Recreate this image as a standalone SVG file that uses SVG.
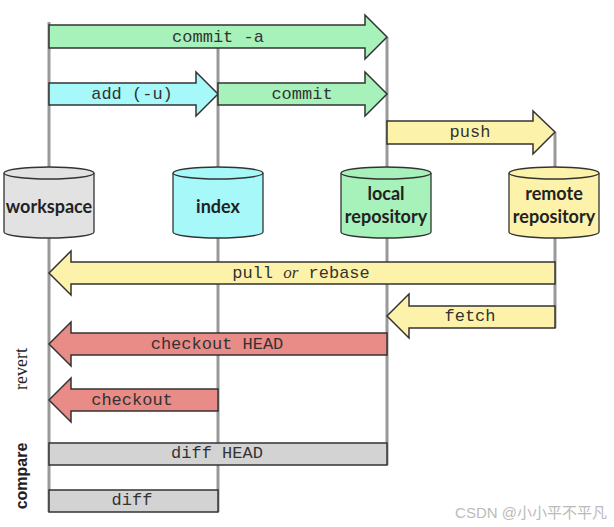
<svg xmlns="http://www.w3.org/2000/svg" width="614" height="527" viewBox="0 0 614 527">
<style>
.vl{stroke:#999;stroke-width:3;fill:none}
.ar{stroke:#333;stroke-width:1.5;stroke-linejoin:miter}
.g{fill:#a7f1ba}.c{fill:#a7f9f9}.y{fill:#fdf2a9}.r{fill:#e98b87}.k{fill:#d3d3d3}
.mono{font-family:"Liberation Mono","Courier New",monospace;font-size:17px;fill:#333;text-anchor:middle}
.cyl{stroke:#333;stroke-width:1.3}
.nl{font-family:"Lato","Open Sans",sans-serif;font-weight:bold;font-size:18px;fill:#222;text-anchor:middle}
</style>
<rect width="614" height="527" fill="#fff"/>
<g id="lifelines">
<line class="vl" x1="49" y1="22" x2="49" y2="512"/>
<line class="vl" x1="218" y1="48" x2="218" y2="512"/>
<line class="vl" x1="387" y1="37" x2="387" y2="465"/>
<line class="vl" x1="555" y1="132" x2="555" y2="328"/>
</g>
<g id="workspace">
<path class="cyl" fill="#e2e2e2" d="M4,173 V232 A45,6 0 0 0 94,232 V173"/>
<ellipse class="cyl" fill="#e2e2e2" cx="49" cy="173" rx="45" ry="6"/>
<text class="nl" x="49" y="213">workspace</text>
</g>
<g id="index">
<path class="cyl" fill="#a7f9f9" d="M173,173 V232 A45,6 0 0 0 263,232 V173"/>
<ellipse class="cyl" fill="#a7f9f9" cx="218" cy="173" rx="45" ry="6"/>
<text class="nl" x="218" y="213">index</text>
</g>
<g id="local">
<path class="cyl" fill="#a7f1ba" d="M341,173 V232 A45,6 0 0 0 431,232 V173"/>
<ellipse class="cyl" fill="#a7f1ba" cx="386" cy="173" rx="45" ry="6"/>
<text class="nl" x="386" y="200">local</text>
<text class="nl" x="386" y="223">repository</text>
</g>
<g id="remote">
<path class="cyl" fill="#fdf2a9" d="M509,173 V232 A45,6 0 0 0 599,232 V173"/>
<ellipse class="cyl" fill="#fdf2a9" cx="554" cy="173" rx="45" ry="6"/>
<text class="nl" x="554" y="200">remote</text>
<text class="nl" x="554" y="223">repository</text>
</g>
<g id="connectors">
<path class="ar g" d="M49,25 H365 V15 L387,37 L365,59 V48 H49 Z"/>
<text class="mono" x="218" y="42">commit -a</text>
<path class="ar c" d="M49,83 H196 V72 L218,94 L196,116 V105 H49 Z"/>
<text class="mono" x="132" y="99">add (-u)</text>
<path class="ar g" d="M218,83 H365 V72 L387,94 L365,116 V105 H218 Z"/>
<text class="mono" x="302" y="99">commit</text>
<path class="ar y" d="M387,121 H533 V111 L555,132 L533,154 V144 H387 Z"/>
<text class="mono" x="470" y="137">push</text>
<path class="ar y" d="M555,262 H71 V251 L49,273 L71,295 V284 H555 Z"/>
<text class="mono" x="301" y="278">pull <tspan font-family="'Liberation Serif',serif" font-style="italic">or</tspan> rebase</text>
<path class="ar y" d="M555,306 H409 V294 L387,316 L409,338 V328 H555 Z"/>
<text class="mono" x="470" y="321">fetch</text>
<path class="ar r" d="M387,333 H71 V322 L49,344 L71,366 V355 H387 Z"/>
<text class="mono" x="217" y="349">checkout HEAD</text>
<path class="ar r" d="M218,389 H71 V378 L49,400 L71,422 V411 H218 Z"/>
<text class="mono" x="132" y="405">checkout</text>
<rect class="ar k" x="49" y="443" width="338" height="22"/>
<text class="mono" x="217" y="458">diff HEAD</text>
<rect class="ar k" x="49" y="490" width="169" height="22"/>
<text class="mono" x="132" y="505">diff</text>
</g>
<text transform="translate(27,369) rotate(-90)" font-family="'Liberation Serif',serif" font-size="18" fill="#222" text-anchor="middle">revert</text>
<text transform="translate(27,476) rotate(-90)" font-family="'Liberation Sans',Arial,sans-serif" font-weight="bold" font-size="16" fill="#222" text-anchor="middle">compare</text>
<text x="607" y="518" font-family="'Liberation Sans','Noto Sans CJK SC',sans-serif" font-size="15" fill="#bbb" text-anchor="end">CSDN @小小平不平凡</text>
</svg>
